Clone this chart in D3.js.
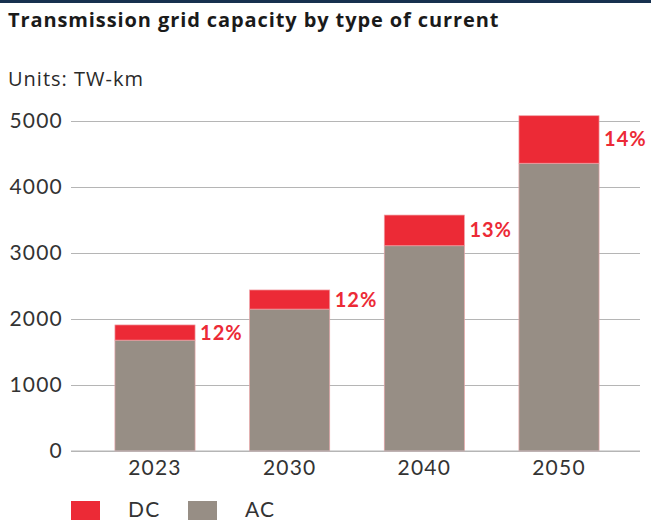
<!DOCTYPE html>
<html>
<head>
    <meta charset="utf-8">
    <title>Transmission grid capacity</title>
    <script src="https://cdn.jsdelivr.net/npm/d3@7"></script>
    <style>
        body { margin: 0; background: #fff; }
    </style>
</head>
<body>
    <svg width="651" height="520" id="mainsvg" font-family="Lato, sans-serif"></svg>
    <script>
        // data
        const years = ['2023', '2030', '2040', '2050'];
        const acValues = [1680, 2150, 3110, 4360];
        const dcValues = [230, 290, 465, 720];
        const shareLabels = ['12%', '12%', '13%', '14%'];
        const yTicks = [0, 1000, 2000, 3000, 4000, 5000];

        const red = '#ec2a36';
        const grey = '#978e85';

        const svg = d3.select('svg');
        const width = +svg.attr('width');

        // navy strip at the top
        svg.append('rect').attr('x', 0).attr('y', 0).attr('width', width).attr('height', 3).attr('fill', '#17314f');

        svg.append('text').attr('x', 8).attr('y', 27)
            .attr('font-family', '"Open Sans", sans-serif').attr('font-weight', 700).attr('font-size', 20)
            .attr('letter-spacing', 0.9).attr('fill', '#1a1a1a').text('Transmission grid capacity by type of current');
        svg.append('text').attr('x', 8).attr('y', 86)
            .attr('font-family', '"Open Sans", sans-serif').attr('font-size', 20).attr('letter-spacing', 1)
            .attr('fill', '#2a2a2a').text('Units: TW-km');

        const plotLeft = 71, plotRight = 640, plotTop = 121, plotBottom = 451;
        const x = d3.scaleBand().domain(years).range([88, 626]).paddingInner(0.405).paddingOuter(0.2);
        const y = d3.scaleLinear().domain([0, 5000]).range([plotBottom, plotTop]);

        // grid + tick labels
        const yAxis = d3.axisLeft(y).tickValues(yTicks).tickFormat(d3.format('d'))
            .tickSize(-(plotRight - plotLeft)).tickPadding(8);
        const gy = svg.append('g').attr('transform', `translate(${plotLeft},0)`).call(yAxis);
        gy.attr('font-family', null);
        gy.select('.domain').remove();
        gy.selectAll('line').attr('stroke', '#b5b5b5').attr('stroke-width', 1.2);
        gy.selectAll('text').attr('font-size', 21).attr('fill', '#333').attr('letter-spacing', 1.2);

        const rows = years.map((yr, i) => ({ year: yr, ac: acValues[i], dc: dcValues[i], label: shareLabels[i] }));

        const bars = svg.append('g');
        bars.selectAll('.ac').data(rows).join('rect').attr('class', 'ac')
            .attr('x', d => x(d.year)).attr('width', x.bandwidth())
            .attr('y', d => y(d.ac)).attr('height', d => y(0) - y(d.ac))
            .attr('fill', grey).attr('stroke', '#e7a3a6').attr('stroke-width', 0.7);
        bars.selectAll('.dc').data(rows).join('rect').attr('class', 'dc')
            .attr('x', d => x(d.year)).attr('width', x.bandwidth())
            .attr('y', d => y(d.ac + d.dc)).attr('height', d => y(d.ac) - y(d.ac + d.dc))
            .attr('fill', red).attr('stroke', '#f0a0a5').attr('stroke-width', 0.7);

        // redraw baseline over bars
        svg.append('line').attr('x1', plotLeft).attr('x2', plotRight).attr('y1', y(0)).attr('y2', y(0))
            .attr('stroke', '#b5b5b5').attr('stroke-width', 1.2);

        svg.append('g').selectAll('text').data(rows).join('text')
            .attr('x', d => x(d.year) + x.bandwidth() + 5)
            .attr('y', d => (y(d.ac) + y(d.ac + d.dc)) / 2)
            .attr('dy', '0.35em')
            .attr('font-size', 20).attr('font-weight', 700).attr('letter-spacing', 1)
            .attr('fill', red).text(d => d.label);

        // x labels
        const xAxis = d3.axisBottom(x).tickSize(0).tickPadding(9);
        const gx = svg.append('g').attr('transform', `translate(0,${plotBottom})`).call(xAxis);
        gx.attr('font-family', null);
        gx.select('.domain').remove();
        gx.selectAll('text').attr('font-size', 21).attr('fill', '#333').attr('letter-spacing', 1.2);

        // legend
        const legend = [{ name: 'DC', color: red, x: 71 }, { name: 'AC', color: grey, x: 188 }];
        const lg = svg.append('g').selectAll('g').data(legend).join('g')
            .attr('transform', d => `translate(${d.x},501)`);
        lg.append('rect').attr('width', 29).attr('height', 19).attr('fill', d => d.color);
        lg.append('text').attr('x', 57).attr('y', 16).attr('font-size', 21).attr('fill', '#333')
            .attr('letter-spacing', 1.2).text(d => d.name);
    </script>
</body>
</html>
